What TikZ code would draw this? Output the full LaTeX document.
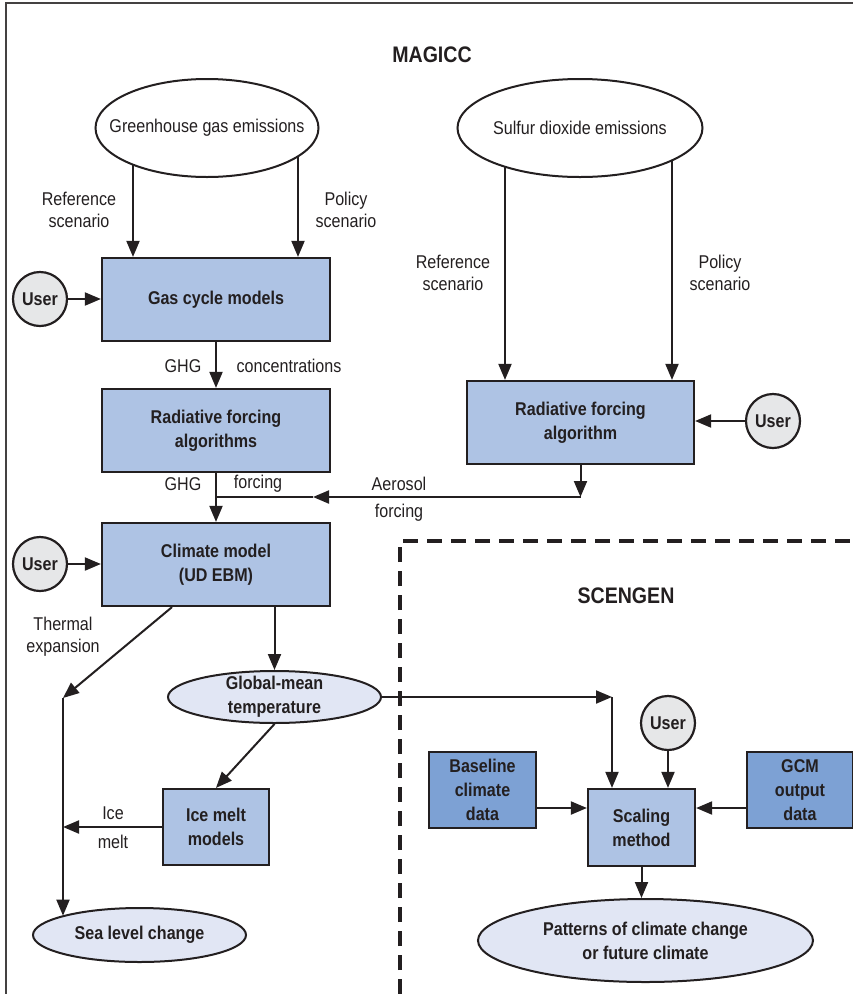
\documentclass[tikz,border=0pt]{standalone}
\usepackage{fontspec}
\setmainfont{Liberation Sans}[FakeStretch=0.87]
\usepackage{tikz}
\usetikzlibrary{arrows.meta, positioning, shapes.geometric, calc, backgrounds}

\definecolor{procblue}{HTML}{AEC3E4}
\definecolor{datablue}{HTML}{7DA1D4}
\definecolor{ovalblue}{HTML}{E1E6F4}
\definecolor{usergray}{HTML}{E6E7E8}
\definecolor{inkdark}{HTML}{231F20}

\begin{document}
\begin{tikzpicture}[x=1pt, y=-1pt,
    every node/.style={text=inkdark, font=\fontsize{18.5}{22}\selectfont, align=center},
    procbox/.style={rectangle, draw=inkdark, line width=2.2pt, fill=procblue, inner sep=2pt, font=\fontsize{18.5}{24}\selectfont\bfseries},
    databox/.style={procbox, fill=datablue},
    userdot/.style={circle, draw=inkdark, line width=2.2pt, fill=usergray, minimum size=54pt, inner sep=0pt, font=\fontsize{18.5}{22}\selectfont\bfseries},
    emisoval/.style={ellipse, draw=inkdark, line width=2pt, fill=white, inner xsep=-24pt, inner ysep=-7pt},
    outoval/.style={emisoval, fill=ovalblue, font=\fontsize{18.5}{24}\selectfont\bfseries},
    titletext/.style={font=\fontsize{22.5}{24}\selectfont\bfseries},
    arr/.style={draw=inkdark, line width=2pt, -{Triangle[length=16pt, width=13pt]}},
    wire/.style={draw=inkdark, line width=2pt}
]
\useasboundingbox (0,0) rectangle (853,994);

% frames
\draw[draw=inkdark!85, line width=2pt] (6,994) -- (6,3) -- (853,3);
\draw[draw=inkdark, line width=3.6pt, dash pattern=on 15pt off 9pt] (400,994) -- (400,541) -- (853,541);

% MAGICC part
\node[titletext] (magicc) at (432,55) {MAGICC};
\node[emisoval, minimum width=223pt, minimum height=98pt] (ghg) at (207,128) {Greenhouse gas emissions};
\node[emisoval, minimum width=245pt, minimum height=98pt] (so2) at (580,128) {Sulfur dioxide emissions};

\node[procbox, minimum width=228pt, minimum height=83pt] (gascycle) at (216,299.5) {Gas cycle models};
\node[procbox, minimum width=228pt, minimum height=83pt] (radforce) at (216,430.5) {Radiative forcing\\algorithms};
\node[procbox, minimum width=228pt, minimum height=83pt] (climate) at (216,564.5) {Climate model\\(UD EBM)};
\node[procbox, minimum width=227pt, minimum height=83pt] (so2box) at (580.5,422.5) {Radiative forcing\\algorithm};

\node[userdot] (user1) at (40,299) {User};
\node[userdot] (user2) at (40,564) {User};
\node[userdot] (user3) at (773,421) {User};

\node[outoval, minimum width=213pt, minimum height=52pt] (gmt) at (274.5,697) {Global-mean\\temperature};
\node[procbox, minimum width=106pt, minimum height=76pt] (icemelt) at (216,827) {Ice melt\\models};
\node[outoval, minimum width=213pt, minimum height=54pt] (sealevel) at (139.5,935) {Sea level change};

% SCENGEN part
\node[titletext] (scengen) at (626,596) {SCENGEN};
\node[userdot] (user4) at (668,723) {User};
\node[databox, minimum width=107pt, minimum height=76pt] (baseline) at (482.5,790) {Baseline\\climate\\data};
\node[procbox, minimum width=107pt, minimum height=77pt] (scaling) at (641.5,827.5) {Scaling\\method};
\node[databox, minimum width=106pt, minimum height=76pt] (gcm) at (800,790) {GCM\\output\\data};
\node[outoval, minimum width=335pt, minimum height=83pt] (patterns) at (645.5,940.5) {Patterns of climate change\\or future climate};

% labels
\node (ghgref) at (79,210) {Reference\\scenario};
\node (ghgpol) at (346,210) {Policy\\scenario};
\node (so2ref) at (453,273) {Reference\\scenario};
\node (so2pol) at (720,273) {Policy\\scenario};
\node (concl) at (183,366) {GHG};
\node (concr) at (289,366) {concentrations};
\node (forcl) at (183,484) {GHG};
\node (forcr) at (258,484) {forcing};
\node (aerup) at (399,484) {Aerosol};
\node (aerdn) at (399,513) {forcing};
\node (thermal) at (63,637) {Thermal\\expansion};
\node (iceup) at (113,813) {Ice};
\node (icedn) at (113,842) {melt};

% anchor points
\coordinate (ghgrefin) at ([xshift=-83pt]gascycle.north);
\coordinate (ghgpolin) at ([xshift=82pt]gascycle.north);
\coordinate (so2refin) at ([xshift=-75.5pt]so2box.north);
\coordinate (so2polin) at ([xshift=91.5pt]so2box.north);
\coordinate (aerjoin) at (so2box.south |- 0,497);
\coordinate (aertip) at (313,497);
\coordinate (thermtop) at (63,698);
\coordinate (gmtcorner) at ([xshift=-29.5pt]scaling.north |- gmt.east);
\coordinate (baseout) at ([yshift=-18pt]baseline.east);
\coordinate (gcmout) at ([yshift=-18pt]gcm.west);

\begin{scope}[on background layer]
\draw[arr] (ghgrefin |- ghg.center) -- (ghgrefin);
\draw[arr] (ghgpolin |- ghg.center) -- (ghgpolin);
\draw[arr] (so2refin |- so2.center) -- (so2refin);
\draw[arr] (so2polin |- so2.center) -- (so2polin);
\end{scope}

% connectors
\draw[arr] (user1.east) -- (user1.east -| gascycle.west);
\draw[arr] (gascycle.south) -- (radforce.north);
\draw[arr] (radforce.south) -- (climate.north);
\draw[arr] (user3.west) -- (user3.west -| so2box.east);
\draw[arr] (so2box.south) -- (aerjoin);
\draw[arr] (aerjoin) -- (aertip);
\draw[wire] (aertip) -- (aertip -| climate.north);
\draw[arr] (user2.east) -- (user2.east -| climate.west);
\draw[arr] ([xshift=-44pt]climate.south) -- (thermtop);
\draw[arr] (thermtop) -- (thermtop |- sealevel.166);
\draw[arr] (gmt.north |- climate.south) -- (gmt.north);
\draw[arr] (gmt.south) -- (icemelt.north);
\draw[arr] (icemelt.west) -- (icemelt.west -| thermtop);
\draw[arr] (gmt.east) -- (gmtcorner);
\draw[arr] (gmtcorner) -- (gmtcorner |- scaling.north);
\draw[arr] (user4.south) -- (user4.south |- scaling.north);
\draw[arr] (baseout) -- (baseout -| scaling.west);
\draw[arr] (gcmout) -- (gcmout -| scaling.east);
\draw[arr] (scaling.south) -- (scaling.south |- patterns.north);
\end{tikzpicture}
\end{document}
